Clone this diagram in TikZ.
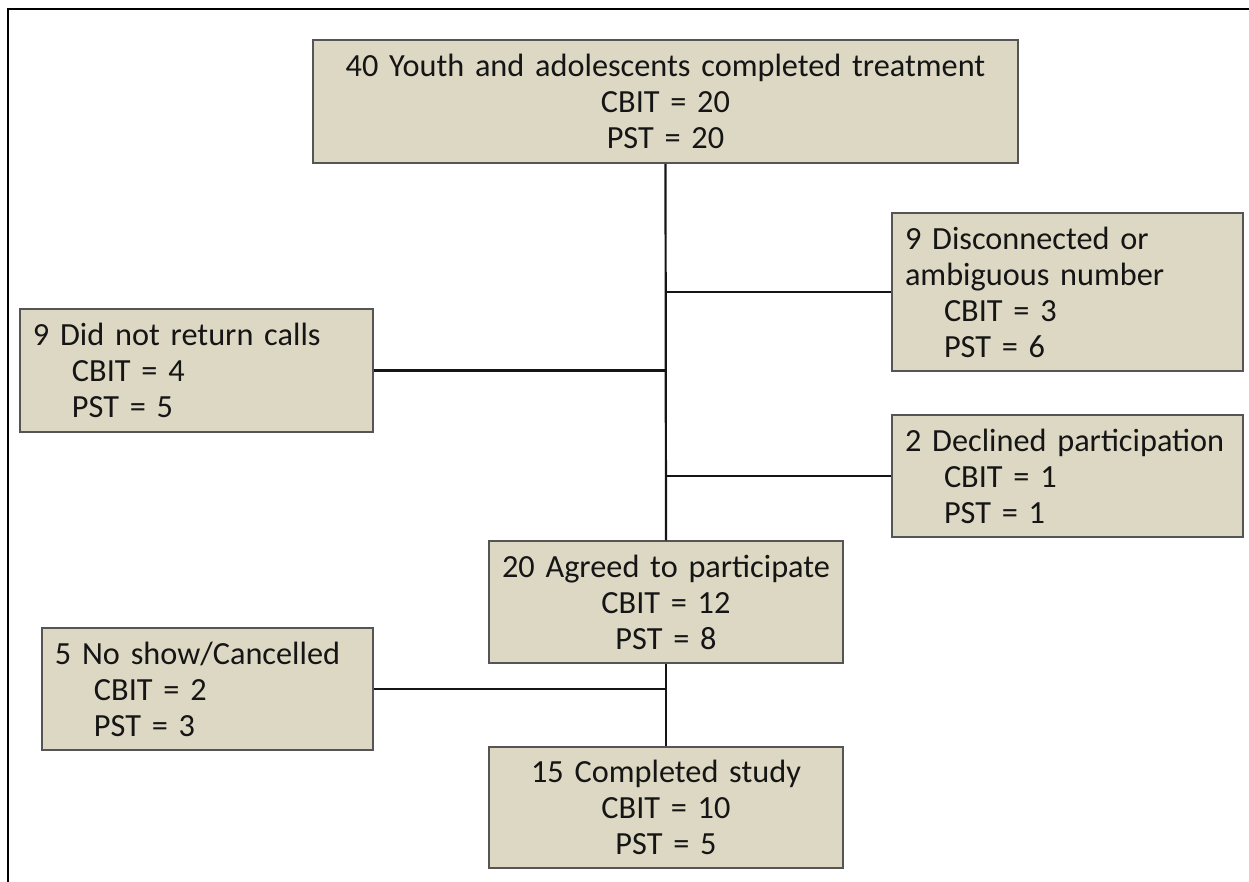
\documentclass[tikz,border=0pt]{standalone}
\usepackage{fontspec}
\setmainfont{Carlito}
\definecolor{boxfill}{HTML}{DDD8C3}
\definecolor{boxline}{HTML}{555555}
\definecolor{ink}{HTML}{151515}
\tikzset{
  fbox/.style={draw=boxline, fill=boxfill, line width=1.5bp, inner sep=0pt,
    inner xsep=13bp, font=\fontsize{32.3bp}{36bp}\selectfont, text=ink},
  cbox/.style={fbox, align=center},
  lbox/.style={fbox, align=left},
  link/.style={line width=2.2bp, draw=ink},
  frameline/.style={line width=2.5bp, draw=black}
}
\newcommand{\ind}{\hspace*{39bp}}
\begin{document}
\begin{tikzpicture}[x=1bp,y=-1bp]
\useasboundingbox (0,0) rectangle (1249,882);
\draw[frameline] (8,884) -- (8,9) -- (1251,9);

\node[cbox, minimum width=705bp, minimum height=123bp, text width=679bp] (top) at (665.5,101.5)
  {40 Youth and adolescents completed treatment\\CBIT = 20\\PST = 20};
\node[lbox, minimum width=351bp, minimum height=158bp, text width=325bp] (r1) at (1067.5,292)
  {9 Disconnected or\\ambiguous number\\\ind CBIT = 3\\\ind PST = 6};
\node[lbox, minimum width=353bp, minimum height=123bp, text width=327bp] (l1) at (196.5,370.5)
  {9 Did not return calls\\\ind CBIT = 4\\\ind PST = 5};
\node[lbox, minimum width=351bp, minimum height=122bp, text width=325bp] (r2) at (1067.5,476)
  {2 Declined participation\\\ind CBIT = 1\\\ind PST = 1};
\node[cbox, minimum width=354bp, minimum height=122bp, text width=328bp] (mid) at (666,602)
  {20 Agreed to participate\\CBIT = 12\\PST = 8};
\node[lbox, minimum width=331bp, minimum height=122bp, text width=305bp] (l2) at (207.5,689)
  {5 No show/Cancelled\\\ind CBIT = 2\\\ind PST = 3};
\node[cbox, minimum width=354bp, minimum height=121bp, text width=328bp] (bot) at (666,807.5)
  {15 Completed study\\CBIT = 10\\PST = 5};

\draw[link] (top.south) -- (mid.north);
\draw[link] (mid.south) -- (bot.north);
\draw[link] (r1.west) -- (r1.west -| top.south);
\draw[link] (l1.east) -- (l1.east -| top.south);
\draw[link] (r2.west) -- (r2.west -| top.south);
\draw[link] (l2.east) -- (l2.east -| mid.south);
\end{tikzpicture}
\end{document}
